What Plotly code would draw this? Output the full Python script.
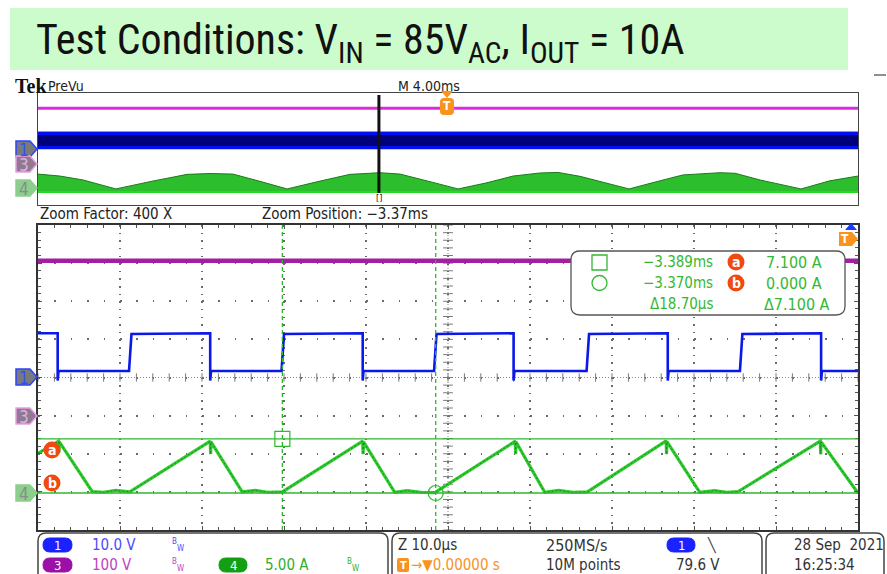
import plotly.graph_objects as go

W, H = 887, 574


def X(px):
    return px / W


def Y(py):
    return 1 - py / H


# ---------------- data ----------------
# Zoomed window: time relative to the zoom position (µs)
ch1_t = [-50.0, -47.6, -47.6, -47.5, -38.9, -38.6, -29.0, -29.0, -28.9, -20.3,
         -20.0, -10.4, -10.4, -10.3, -1.7, -1.4, 8.0, 8.0, 8.1, 16.9,
         17.2, 26.8, 26.8, 26.9, 35.6, 35.9, 45.5, 45.5, 45.6, 50.0]
ch1_v = [11.6, 11.6, -0.8, 1.7, 1.7, 11.4, 11.6, -0.8, 1.7, 1.7,
         11.4, 11.6, -0.8, 1.7, 1.7, 11.4, 11.6, -0.8, 1.7, 1.7,
         11.4, 11.6, -0.8, 1.7, 1.7, 11.4, 11.6, -0.8, 1.7, 1.7]

ch3_t = [-50.0, 50.0]
ch3_v = [407.0, 407.0]

ch4_t = [-50.0, -47.5, -47.45, -47.4, -43.4, -42.0, -40.5, -39.0,
         -38.8, -29.0, -28.95, -28.9, -25.1, -23.5, -22.0, -20.2,
         -10.4, -10.35, -10.3, -6.5, -5.0, -3.3, -1.6,
         8.2, 8.25, 8.3, 11.8, 13.5, 15.2, 17.0,
         26.6, 26.65, 26.7, 30.7, 32.5, 34.0, 35.4,
         45.4, 45.45, 45.5, 50.0]
ch4_i = [5.2, 6.8, 5.3, 6.7, 0.2, 0.1, 0.35, 0.1,
         0.15, 6.8, 5.1, 6.7, 0.15, 0.35, 0.1, 0.15,
         6.8, 5.1, 6.7, 0.1, 0.3, 0.1, 0.05,
         6.8, 5.1, 6.7, 0.1, 0.35, 0.1, 0.15,
         6.85, 5.1, 6.75, 0.1, 0.3, 0.1, 0.2,
         6.8, 5.1, 6.7, 0.0]

# Cursors (time in µs relative to zoom position, current in A)
cursor_t = [-20.2, -1.5]
cursor_i = [7.1, 0.0]

# Overview (PreVu) window, time in ms relative to trigger
ov_t = [-20.0, -18.93, -17.80, -16.20, -14.54, -12.73, -11.61, -10.49, -9.17, -7.85,
        -6.24, -4.78, -3.32, -2.34, -0.88, 0.49, 1.90, 3.17, 4.49, 5.37,
        6.44, 7.41, 8.83, 10.34, 11.46, 13.27, 14.00, 15.22, 17.22, 18.63, 20.0]
ov_ch4_env = [6.4, 5.7, 4.3, 1.1, 3.7, 6.3, 6.6, 6.4, 3.8, 1.1,
              3.9, 6.3, 6.9, 6.4, 3.7, 1.1, 3.3, 5.7, 6.8, 7.0,
              5.6, 3.8, 1.1, 4.0, 6.1, 6.9, 6.7, 4.3, 1.1, 4.0, 5.7]
ov_band_t = [-20.0, 20.0]
ov_ch1_hi = [12.1, 12.1]
ov_ch1_lo = [-0.2, -0.2]
ov_ch1_core_hi = [10.0, 10.0]
ov_ch1_core_lo = [2.2, 2.2]
ov_ch3_v = [405.0, 405.0]
zoom_pos_ms = -3.37
trigger_ms = 0.0

# Readout / status texts
readout_times = ["\u22123.389ms", "\u22123.370ms", "\u039418.70\u00b5s"]
readout_vals = ["7.100 A", "0.000 A", "\u03947.100 A"]

# ---------------- geometry (pixels) ----------------
GX0, GX1 = 38, 858
MY0, MY1 = 225, 530          # main grid
OY0, OY1 = 93, 205           # overview box

SCOPE_FONT = "DejaVu Sans Condensed, DejaVu Sans, sans-serif"
GREEN = "#33b833"

fig = go.Figure()

# ---- overview traces ----
fig.add_trace(go.Scatter(x=ov_band_t, y=ov_ch1_lo, xaxis="x2", yaxis="y5", mode="lines",
                         line=dict(color="#0010f0", width=0), hoverinfo="skip"))
fig.add_trace(go.Scatter(x=ov_band_t, y=ov_ch1_hi, xaxis="x2", yaxis="y5", mode="lines",
                         fill="tonexty", fillcolor="#0010f0",
                         line=dict(color="#0010f0", width=1), hoverinfo="skip"))
fig.add_trace(go.Scatter(x=ov_band_t, y=ov_ch1_core_lo, xaxis="x2", yaxis="y5", mode="lines",
                         line=dict(color="#000070", width=0), hoverinfo="skip"))
fig.add_trace(go.Scatter(x=ov_band_t, y=ov_ch1_core_hi, xaxis="x2", yaxis="y5", mode="lines",
                         fill="tonexty", fillcolor="#00007a",
                         line=dict(color="#00007a", width=0), hoverinfo="skip"))
fig.add_trace(go.Scatter(x=ov_band_t, y=ov_ch3_v, xaxis="x2", yaxis="y6", mode="lines",
                         line=dict(color="#e02ae0", width=3), hoverinfo="skip"))
fig.add_trace(go.Scatter(x=ov_t, y=ov_ch4_env, xaxis="x2", yaxis="y7", mode="lines",
                         fill="tozeroy", fillcolor="#2cbe2c",
                         line=dict(color="#1d7a1d", width=1), hoverinfo="skip"))
fig.add_trace(go.Scatter(x=ov_band_t, y=[0, 0], xaxis="x2", yaxis="y7", mode="lines",
                         line=dict(color="#22dd22", width=2), hoverinfo="skip"))

# ---- main grid centre crosshair ticks ----
minor_v = [-40 + 2 * k for k in range(41)]
minor_t = [-50 + 2 * k for k in range(51)]
fig.add_trace(go.Scatter(x=[0] * len(minor_v), y=minor_v, xaxis="x", yaxis="y", mode="markers",
                         marker=dict(symbol="line-ew-open", size=7, color="#7a7a7a",
                                     line=dict(width=1, color="#7a7a7a")),
                         hoverinfo="skip"))
fig.add_trace(go.Scatter(x=minor_t, y=[0] * len(minor_t), xaxis="x", yaxis="y", mode="markers",
                         marker=dict(symbol="line-ns-open", size=6, color="#7a7a7a",
                                     line=dict(width=1, color="#7a7a7a")),
                         hoverinfo="skip"))

# ---- main traces ----
fig.add_trace(go.Scatter(x=ch3_t, y=ch3_v, xaxis="x", yaxis="y3", mode="lines",
                         line=dict(color="#a21fa2", width=4.5), hoverinfo="skip"))
fig.add_trace(go.Scatter(x=ch1_t, y=ch1_v, xaxis="x", yaxis="y", mode="lines",
                         line=dict(color="#0a18e8", width=2.6), hoverinfo="skip"))
fig.add_trace(go.Scatter(x=ch4_t, y=ch4_i, xaxis="x", yaxis="y4", mode="lines",
                         line=dict(color="#2fcc2f", width=3.2), hoverinfo="skip"))
fig.add_trace(go.Scatter(x=ch4_t, y=ch4_i, xaxis="x", yaxis="y4", mode="lines",
                         line=dict(color="#1e8a1e", width=1, dash="2px,2px"), hoverinfo="skip"))
# cursor markers
fig.add_trace(go.Scatter(x=cursor_t, y=cursor_i, xaxis="x", yaxis="y4", mode="markers",
                         marker=dict(symbol=["square-open", "circle-open"], size=15,
                                     color="#2fb82f", line=dict(width=1.2)),
                         hoverinfo="skip"))

shapes = []
annotations = []


def rrect_path(x0, y0, x1, y1, r):
    pts = [
        ("M", [(x0 + r, y0)]), ("L", [(x1 - r, y0)]), ("Q", [(x1, y0), (x1, y0 + r)]),
        ("L", [(x1, y1 - r)]), ("Q", [(x1, y1), (x1 - r, y1)]), ("L", [(x0 + r, y1)]),
        ("Q", [(x0, y1), (x0, y1 - r)]), ("L", [(x0, y0 + r)]), ("Q", [(x0, y0), (x0 + r, y0)]),
    ]
    s = ""
    for cmd, ps in pts:
        s += cmd + " " + " ".join(f"{X(a):.5f},{Y(b):.5f}" for a, b in ps) + " "
    return s + "Z"


def poly_path(points):
    return "M " + " L ".join(f"{X(a):.5f},{Y(b):.5f}" for a, b in points) + " Z"


def rect(x0, y0, x1, y1, fill, line=None, lw=0, layer="above"):
    shapes.append(dict(type="rect", xref="paper", yref="paper", x0=X(x0), x1=X(x1),
                       y0=Y(y1), y1=Y(y0), fillcolor=fill, layer=layer,
                       line=dict(color=line or fill, width=lw)))


def text(x, y, s, size=15, color="#222", xanchor="left", family=SCOPE_FONT):
    annotations.append(dict(x=X(x), y=Y(y), xref="paper", yref="paper", text=s,
                            showarrow=False, xanchor=xanchor, yanchor="middle",
                            font=dict(size=size, color=color, family=family),
                            borderpad=0))


def circle(cx, cy, r, fill, line=None, lw=0):
    shapes.append(dict(type="circle", xref="paper", yref="paper", x0=X(cx - r), x1=X(cx + r),
                       y0=Y(cy + r), y1=Y(cy - r), fillcolor=fill,
                       line=dict(color=line or fill, width=lw)))


def pill(x0, y0, x1, y1, fill, label):
    shapes.append(dict(type="path", xref="paper", yref="paper",
                       path=rrect_path(x0, y0, x1, y1, (y1 - y0) / 2), fillcolor=fill,
                       line=dict(color=fill, width=1)))
    text((x0 + x1) / 2, (y0 + y1) / 2 + 0.5, label, size=13, color="white", xanchor="center")


def tag(y, fill, border, label, tcolor):
    shapes.append(dict(type="path", xref="paper", yref="paper",
                       path=poly_path([(16, y - 8), (30, y - 8), (37, y), (30, y + 8), (16, y + 8)]),
                       fillcolor=fill, line=dict(color=border, width=1.5)))
    text(24, y + 0.5, label, size=17, color=tcolor, xanchor="center")


# ---- title band ----
rect(10, 8, 848, 70, "#ccfccc", layer="below")
annotations.append(dict(
    x=X(34), y=Y(43), xref="paper", yref="paper", showarrow=False, xanchor="left", yanchor="middle",
    text="Test Conditions: V<sub>IN</sub> = 85V<sub>AC</sub>, I<sub>OUT</sub> = 10A",
    font=dict(size=42, color="#111",
              family="Roboto Condensed, Liberation Sans Narrow, DejaVu Sans Condensed, sans-serif")))
shapes.append(dict(type="line", xref="paper", yref="paper", x0=X(874), x1=X(886), y0=Y(75), y1=Y(75),
                   line=dict(color="#444", width=1.2)))

# ---- header ----
text(14, 86, "<b>Tek</b>", size=20, color="#111", family="Liberation Serif, DejaVu Serif, serif")
text(47, 86, "PreVu", size=14, color="#222")
text(397, 86, "M 4.00ms", size=14, color="#222")
text(39, 214, "Zoom Factor: 400 X", size=15, color="#222")
text(261, 214, "Zoom Position: \u22123.37ms", size=15, color="#222")

# ---- overview decorations ----
shapes.append(dict(type="line", xref="x2", yref="paper", x0=zoom_pos_ms, x1=zoom_pos_ms,
                   y0=Y(193), y1=Y(95), line=dict(color="#111", width=3)))
annotations.append(dict(x=zoom_pos_ms, y=Y(198), xref="x2", yref="paper", text="[]", showarrow=False,
                        font=dict(size=9, color="#111", family=SCOPE_FONT), yanchor="middle"))
# trigger marker in overview
shapes.append(dict(type="path", xref="paper", yref="paper",
                   path=poly_path([(441, 91), (453, 91), (447, 98)]), fillcolor="#f7931e",
                   line=dict(color="#f7931e", width=0)))
shapes.append(dict(type="path", xref="paper", yref="paper",
                   path=rrect_path(440, 98, 454, 115, 4), fillcolor="#f7931e",
                   line=dict(color="#f7931e", width=0)))
text(447, 106.5, "<b>T</b>", size=12, color="white", xanchor="center")

# ---- channel tags ----
tag(149, "#7a7a7a", "#2a44ff", "1", "#3050ff")
tag(164, "#8f7a8f", "#e8a0e8", "3", "#e0b0e0")
tag(188, "#8ccf8c", "#8ccf8c", "4", "#8a8a8a")
tag(377, "#7a7a7a", "#2a44ff", "1", "#3050ff")
tag(416, "#8f7a8f", "#e8a0e8", "3", "#e0b0e0")
tag(493, "#8ccf8c", "#8ccf8c", "4", "#8a8a8a")

# cursor labels a / b
circle(52, 450, 8.5, "#f04a10")
text(52, 450, "<b>a</b>", size=14, color="white", xanchor="center")
circle(52, 483, 8.5, "#f04a10")
text(52, 483, "<b>b</b>", size=14, color="white", xanchor="center")

# cursor lines (use cursor data on the main axes)
for ti in cursor_t:
    shapes.append(dict(type="line", xref="x", yref="paper", x0=ti, x1=ti, y0=Y(MY1), y1=Y(MY0),
                       line=dict(color="#2fb82f", width=1.3, dash="4px,3px")))
for ci in cursor_i:
    shapes.append(dict(type="line", xref="paper", yref="y4", x0=X(GX0), x1=X(GX1), y0=ci, y1=ci,
                       line=dict(color="#2fb82f", width=1.3)))

# centre crosshair lines
shapes.append(dict(type="line", xref="x", yref="paper", x0=0, x1=0, y0=Y(MY1), y1=Y(MY0),
                   line=dict(color="#8a8a8a", width=1, dash="1px,2px"), layer="below"))
shapes.append(dict(type="line", xref="paper", yref="y", x0=X(GX0), x1=X(GX1), y0=0, y1=0,
                   line=dict(color="#8a8a8a", width=1, dash="1px,2px"), layer="below"))

# top-right markers of main window
shapes.append(dict(type="path", xref="paper", yref="paper",
                   path=poly_path([(845, 230), (857, 230), (851, 223)]), fillcolor="#1a3cff",
                   line=dict(color="#1a3cff", width=0)))
shapes.append(dict(type="path", xref="paper", yref="paper",
                   path=poly_path([(839, 232), (852, 232), (858, 239), (852, 246), (839, 246)]),
                   fillcolor="#f7931e", line=dict(color="#f7931e", width=0)))
text(845, 239.5, "<b>T</b>", size=12, color="white", xanchor="center")

# ---- readout box ----
shapes.append(dict(type="path", xref="paper", yref="paper", path=rrect_path(571, 251, 845, 315, 9),
                   fillcolor="white", line=dict(color="#555", width=1.3)))
rect(592, 255, 607, 270, "rgba(0,0,0,0)", line=GREEN, lw=1.3)
circle(599.5, 283, 7.5, "rgba(0,0,0,0)", line=GREEN, lw=1.3)
for i, (ts, vs) in enumerate(zip(readout_times, readout_vals)):
    yy = 262 + 21 * i
    text(714, yy, ts, size=15, color=GREEN, xanchor="right")
    text(823 if i < 2 else 831, yy, vs, size=16, color=GREEN, xanchor="right")
circle(736, 262, 8.5, "#f04a10")
text(736, 262, "<b>a</b>", size=14, color="white", xanchor="center")
circle(736, 283, 8.5, "#f04a10")
text(736, 283, "<b>b</b>", size=14, color="white", xanchor="center")

# ---- status bar ----
for (x0, x1) in [(38, 388), (392, 762), (766, 884)]:
    shapes.append(dict(type="path", xref="paper", yref="paper", path=rrect_path(x0, 533, x1, 590, 8),
                       fillcolor="white", line=dict(color="#444", width=1.5), layer="below"))

pill(43, 538, 72, 552, "#1a22ff", "1")
text(91, 545, "10.0 V", size=15, color="#4a4aff")
text(171, 541, "B", size=8, color="#4a4aff")
text(176, 548, "W", size=8, color="#4a4aff")
pill(43, 558, 72, 572, "#9a10a8", "3")
text(91, 565, "100 V", size=15, color="#c23ec2")
text(171, 561, "B", size=8, color="#c23ec2")
text(176, 568, "W", size=8, color="#c23ec2")
pill(219, 558, 247, 572, "#12a012", "4")
text(264, 565, "5.00 A", size=15, color="#30b030")
text(346, 561, "B", size=8, color="#30b030")
text(351, 568, "W", size=8, color="#30b030")

text(397, 545, "Z 10.0\u00b5s", size=15, color="#333")
shapes.append(dict(type="path", xref="paper", yref="paper", path=rrect_path(397, 558, 409, 572, 2),
                   fillcolor="#f7931e", line=dict(color="#f7931e", width=0)))
text(403, 565.5, "<b>T</b>", size=11, color="white", xanchor="center")
text(410, 565, "\u2192\u25bc0.00000 s", size=15, color="#f7931e")
text(545, 545, "250MS/s", size=16, color="#333")
text(545, 565, "10M points", size=15, color="#333")
pill(667, 538, 695, 552, "#1a22ff", "1")
text(706, 545, "\u2572", size=14, color="#333")
text(675, 565, "79.6 V", size=15, color="#333")
text(793, 545, "28 Sep\u00a0\u00a02021", size=15, color="#333")
text(793, 565, "16:25:34", size=15, color="#333")

# ---- axes ----
ax_common = dict(showticklabels=False, zeroline=False, fixedrange=True)
fig.update_layout(
    width=W, height=H, margin=dict(l=0, r=0, t=0, b=0),
    paper_bgcolor="white", plot_bgcolor="white", showlegend=False,
    xaxis=dict(domain=[X(GX0), X(GX1)], range=[-50, 50], anchor="y", dtick=10, tick0=0,
               showgrid=True, gridcolor="#6a6a6a", gridwidth=1.5, griddash="1.5px,6.125px",
               showline=True, linecolor="#333", linewidth=1.5, mirror="ticks",
               ticks="inside", ticklen=4, tickcolor="#555",
               minor=dict(dtick=2, ticks="inside", ticklen=3, tickcolor="#555", showgrid=False),
               **ax_common),
    yaxis=dict(domain=[Y(MY1), Y(MY0)], range=[-40, 40], anchor="x", dtick=10, tick0=0,
               showgrid=True, gridcolor="#6a6a6a", gridwidth=1.5, griddash="1.5px,14.9px",
               showline=True, linecolor="#333", linewidth=1.5, mirror="ticks",
               ticks="inside", ticklen=4, tickcolor="#555",
               minor=dict(dtick=2, ticks="inside", ticklen=3, tickcolor="#555", showgrid=False),
               **ax_common),
    yaxis3=dict(overlaying="y", anchor="x", range=[-299, 501], visible=False, **ax_common),
    yaxis4=dict(overlaying="y", anchor="x", range=[-4.85, 35.15], visible=False, **ax_common),
    xaxis2=dict(domain=[X(GX0), X(GX1)], range=[-20, 20], anchor="y5", showgrid=False,
                showline=True, linecolor="#444", linewidth=1.2, mirror=True, **ax_common),
    yaxis5=dict(domain=[Y(OY1), Y(OY0)], range=[-40, 40], anchor="x2", showgrid=False,
                showline=True, linecolor="#444", linewidth=1.2, mirror=True, **ax_common),
    yaxis6=dict(overlaying="y5", anchor="x2", range=[-285.7, 514.3], visible=False, **ax_common),
    yaxis7=dict(overlaying="y5", anchor="x2", range=[-4.64, 35.36], visible=False, **ax_common),
    shapes=shapes, annotations=annotations,
)

fig.write_html("out.html", config={"displayModeBar": False},
               post_script="document.body.style.margin='0';document.body.style.padding='0';")
